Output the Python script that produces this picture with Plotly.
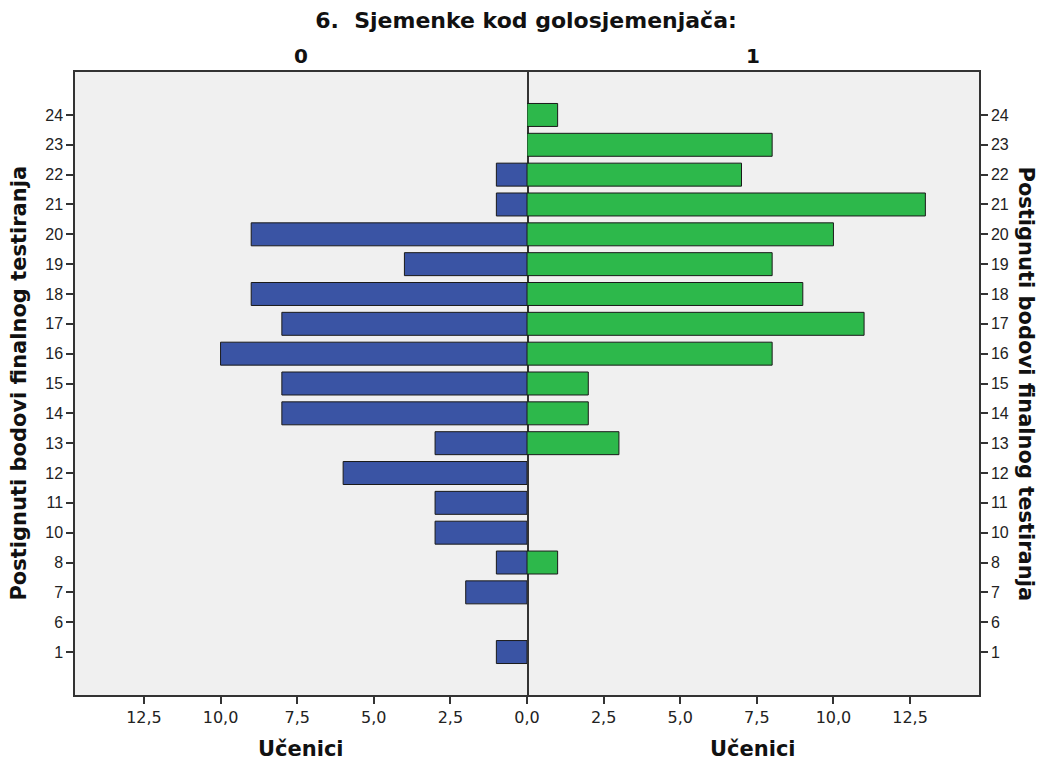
import plotly.graph_objects as go
from plotly.subplots import make_subplots

# bodovi (odozdo prema gore)
SCORES = ["1", "6", "7", "8", "10", "11", "12", "13", "14", "15",
          "16", "17", "18", "19", "20", "21", "22", "23", "24"]
# broj učenika, odgovor 0 (lijevo) i 1 (desno)
COUNT_0 = [1, 0, 2, 1, 3, 3, 6, 3, 8, 8, 10, 8, 9, 4, 9, 1, 1, 0, 0]
COUNT_1 = [0, 0, 0, 1, 0, 0, 0, 3, 2, 2, 8, 11, 9, 8, 10, 13, 7, 8, 1]
GROUPS = ["0", "1"]
X_TICKS = [0, 2.5, 5, 7.5, 10, 12.5]

TITLE = "6.  Sjemenke kod golosjemenjača:"
X_TITLE = "Učenici"
Y_TITLE = "Postignuti bodovi finalnog testiranja"

BLUE = "#3A54A4"
GREEN = "#2DB84B"
BG = "#F0F0F0"
FONT = "DejaVu Sans, sans-serif"
XMAX = 14.75


def no_zero(values):
    # prazni razredi se ne crtaju
    return [v if v else None for v in values]


fig = make_subplots(rows=1, cols=2, horizontal_spacing=0)

fig.add_trace(go.Bar(
    x=no_zero(COUNT_0), y=SCORES, orientation="h",
    marker=dict(color=BLUE, line=dict(color="#1a1a1a", width=1)),
    showlegend=False,
), row=1, col=1)
fig.add_trace(go.Bar(
    x=no_zero(COUNT_1), y=SCORES, orientation="h",
    marker=dict(color=GREEN, line=dict(color="#1a1a1a", width=1)),
    showlegend=False,
), row=1, col=2)

axis_common = dict(
    showgrid=False, zeroline=False, showline=True, linecolor="#333",
    linewidth=1.5, ticks="outside", ticklen=7, tickwidth=1.5, tickcolor="#333",
)

fig.update_xaxes(**axis_common, mirror=True, tickformat=".1f",
                 tickfont=dict(family=FONT, size=16, color="#222"))
fig.update_xaxes(range=[XMAX, 0], tickvals=X_TICKS, domain=[0, 0.5], row=1, col=1)
fig.update_xaxes(range=[0, XMAX], tickvals=X_TICKS[1:], domain=[0.5, 1], row=1, col=2)

yrange = [-1.44, len(SCORES) - 1 + 1.44]
fig.update_yaxes(**axis_common, type="category", categoryorder="array",
                 categoryarray=SCORES, range=yrange,
                 tickfont=dict(family="Liberation Sans, Arial, sans-serif",
                               size=16, color="#222"))
fig.update_yaxes(mirror=True, row=1, col=1)
fig.update_yaxes(side="right", showticklabels=True, matches="y", row=1, col=2)

annotations = [
    dict(text="<b>%s</b>" % GROUPS[0], x=0.25, y=1.026, size=20),
    dict(text="<b>%s</b>" % GROUPS[1], x=0.75, y=1.026, size=20),
    dict(text="<b>%s</b>" % X_TITLE, x=0.25, y=-0.086, size=21),
    dict(text="<b>%s</b>" % X_TITLE, x=0.75, y=-0.086, size=21),
]
for a in annotations:
    size = a.pop("size")
    fig.add_annotation(**a, xref="paper", yref="paper", showarrow=False,
                       xanchor="center", yanchor="middle",
                       font=dict(family=FONT, size=size, color="#111"))
fig.add_annotation(text="<b>%s</b>" % Y_TITLE, x=-0.063, y=0.5, textangle=-90,
                   xref="paper", yref="paper", showarrow=False,
                   xanchor="center", yanchor="middle",
                   font=dict(family=FONT, size=21, color="#111"))
fig.add_annotation(text="<b>%s</b>" % Y_TITLE, x=1.052, y=0.5, textangle=90,
                   xref="paper", yref="paper", showarrow=False,
                   xanchor="center", yanchor="middle",
                   font=dict(family=FONT, size=21, color="#111"))

fig.update_layout(
    title=dict(text="<b>%s</b>" % TITLE, x=0.5, xanchor="center",
               y=1 - 12 / 757, yanchor="middle",
               font=dict(family=FONT, size=22, color="#111")),
    separators=",.",
    bargap=0.23,
    width=1036, height=757,
    margin=dict(l=67, r=65, t=64, b=70),
    paper_bgcolor="white",
    plot_bgcolor=BG,
)

fig.write_html("out.html")
